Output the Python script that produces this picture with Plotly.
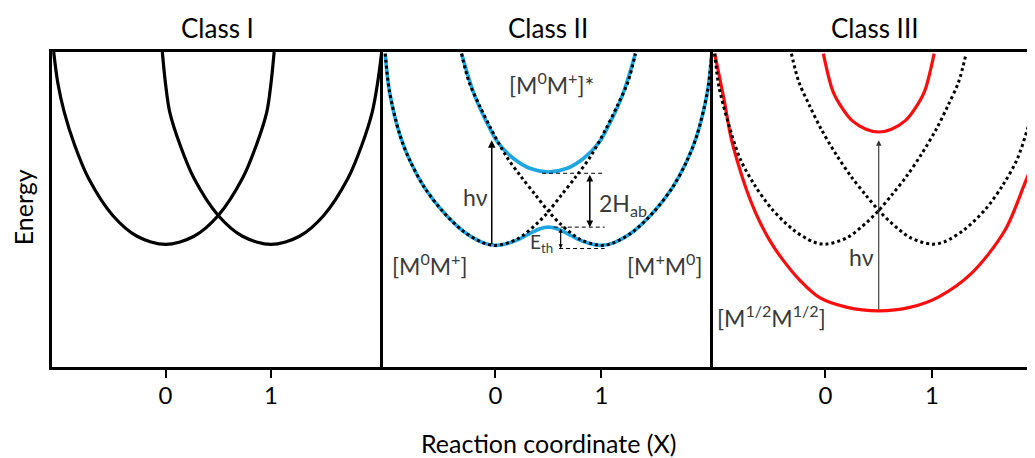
import plotly.graph_objects as go

# ---------------- data (reaction coordinate X, energy in arbitrary units 0..10) ----------------
# Class I : two diabatic curves
c1_a_x = [-1.06, -1.02, -0.96, -0.86, -0.73, -0.5, -0.27, 0.0, 0.27, 0.5, 0.73, 0.86, 0.96, 1.0, 1.03]
c1_a_e = [10.0, 9.0, 8.09, 7.03, 5.99, 4.81, 4.15, 3.89, 4.15, 4.81, 5.99, 7.03, 8.09, 9.0, 10.0]
c1_b_x = [-0.03, 0.0, 0.04, 0.14, 0.27, 0.5, 0.73, 1.0, 1.27, 1.5, 1.73, 1.86, 1.96, 2.01, 2.05]
c1_b_e = [10.0, 9.0, 8.09, 7.03, 5.99, 4.81, 4.15, 3.89, 4.15, 4.81, 5.99, 7.03, 8.09, 9.0, 10.0]

# Class II : diabatic (dotted) and adiabatic (blue) curves
c2_dl_x = [-1.04, -1.0, -0.9, -0.8, -0.67, -0.5, -0.3, -0.12, 0.0, 0.2, 0.39, 0.5, 0.62, 0.76, 0.9, 1.04, 1.15, 1.25, 1.32]
c2_dl_e = [9.95, 8.75, 7.35, 6.5, 5.7, 4.95, 4.3, 3.95, 3.86, 4.05, 4.55, 4.94, 5.45, 6.05, 6.7, 7.55, 8.3, 9.05, 9.95]
c2_dr_x = [-0.32, -0.25, -0.15, -0.04, 0.1, 0.24, 0.38, 0.5, 0.61, 0.8, 1.0, 1.12, 1.3, 1.5, 1.67, 1.8, 1.9, 2.0, 2.04]
c2_dr_e = [9.95, 9.05, 8.3, 7.55, 6.7, 6.05, 5.45, 4.94, 4.55, 4.05, 3.86, 3.95, 4.3, 4.95, 5.7, 6.5, 7.35, 8.75, 9.95]
c2_low_x = [-1.04, -1.0, -0.9, -0.8, -0.67, -0.5, -0.3, -0.12, 0.0, 0.12, 0.23, 0.33, 0.42, 0.5,
            0.58, 0.67, 0.77, 0.88, 1.0, 1.12, 1.3, 1.5, 1.67, 1.8, 1.9, 2.0, 2.04]
c2_low_e = [9.95, 8.75, 7.35, 6.5, 5.7, 4.95, 4.3, 3.95, 3.86, 3.93, 4.07, 4.25, 4.39, 4.44,
            4.39, 4.25, 4.07, 3.93, 3.86, 3.95, 4.3, 4.95, 5.7, 6.5, 7.35, 8.75, 9.95]
c2_up_x = [-0.32, -0.2, -0.05, 0.02, 0.17, 0.33, 0.5, 0.67, 0.83, 0.98, 1.05, 1.2, 1.32]
c2_up_e = [9.95, 8.65, 7.55, 7.14, 6.62, 6.30, 6.19, 6.30, 6.62, 7.14, 7.55, 8.65, 9.95]

# dashed guide levels in Class II
c2_dash_x0 = [0.44, 0.55, 0.60]
c2_dash_x1 = [1.03, 1.03, 1.03]
c2_dash_e = [6.15, 4.44, 3.76]

# Class III : diabatic (dotted) and adiabatic (red) curves
c3_dl_x = [-1.04, -1.0, -0.9, -0.8, -0.67, -0.5, -0.3, -0.12, 0.0, 0.2, 0.39, 0.5, 0.62, 0.76, 0.9, 1.04, 1.15, 1.25, 1.32]
c3_dl_e = [9.95, 8.9, 7.6, 6.6, 5.8, 5.0, 4.35, 3.98, 3.9, 4.1, 4.6, 4.97, 5.45, 6.05, 6.75, 7.55, 8.3, 9.05, 9.95]
c3_dr_x = [-0.32, -0.25, -0.15, -0.04, 0.1, 0.24, 0.38, 0.5, 0.61, 0.8, 1.0, 1.12, 1.3, 1.5, 1.67, 1.8, 1.9, 2.0, 2.04]
c3_dr_e = [9.95, 9.05, 8.3, 7.55, 6.75, 6.05, 5.45, 4.97, 4.6, 4.1, 3.9, 3.98, 4.35, 5.0, 5.8, 6.6, 7.6, 8.9, 9.95]
c3_low_x = [-1.04, -0.95, -0.885, -0.82, -0.744, -0.65, -0.524, -0.4, -0.24, -0.054, 0.195, 0.5,
            0.8, 1.06, 1.37, 1.685, 1.87, 1.967, 2.06]
c3_low_e = [9.95, 8.45, 7.25, 6.45, 5.65, 4.85, 4.02, 3.4, 2.75, 2.2, 1.9, 1.78,
            1.9, 2.22, 2.97, 4.34, 5.82, 6.66, 7.7]
c3_up_x = [-0.02, 0.07, 0.16, 0.25, 0.38, 0.5, 0.62, 0.75, 0.84, 0.93, 1.02]
c3_up_e = [9.95, 8.75, 8.2, 7.82, 7.55, 7.46, 7.55, 7.82, 8.2, 8.75, 9.95]

# arrows: (x, tail energy, head energy)
c2_hv_arrow = [-0.035, 3.86, 7.2]
c2_hab_arrow = [0.89, 6.15, 4.44]
c2_eth_arrow = [0.615, 4.44, 3.76]
c3_hv_arrow = [0.5, 1.78, 7.2]

tick_vals = [0, 1]
tick_text = ["0", "1"]
panel_titles = ["Class I", "Class II", "Class III"]

# ---------------- figure ----------------
FONT = "Lato, Carlito, Open Sans, sans-serif"
BLUE = "#1FA6E0"
RED = "#FF0D0D"
TXT = "#3A3A3A"

fig = go.Figure()


def curve(x, y, ax, color, width, dash="solid"):
    fig.add_trace(go.Scatter(
        x=x, y=y, xaxis="x" + ax, yaxis="y" + ax, mode="lines",
        line=dict(color=color, width=width, dash=dash, shape="spline", smoothing=0.9),
        hoverinfo="skip", showlegend=False))


curve(c1_a_x, c1_a_e, "", "black", 3.2)
curve(c1_b_x, c1_b_e, "", "black", 3.2)

curve(c2_low_x, c2_low_e, "2", BLUE, 3.6)
curve(c2_up_x, c2_up_e, "2", BLUE, 3.6)
curve(c2_dl_x, c2_dl_e, "2", "black", 3, "dot")
curve(c2_dr_x, c2_dr_e, "2", "black", 3, "dot")
for x0, x1, e in zip(c2_dash_x0, c2_dash_x1, c2_dash_e):
    fig.add_trace(go.Scatter(x=[x0, x1], y=[e, e], xaxis="x2", yaxis="y2", mode="lines",
                             line=dict(color="black", width=1, dash="4px,3px"),
                             hoverinfo="skip", showlegend=False))

curve(c3_low_x, c3_low_e, "3", RED, 3.2)
curve(c3_up_x, c3_up_e, "3", RED, 3.2)
curve(c3_dl_x, c3_dl_e, "3", "black", 3, "dot")
curve(c3_dr_x, c3_dr_e, "3", "black", 3, "dot")

# page has an 8px body margin: the figure is sized to fit the 1035x458 window
W, H = 1027, 450
ml, mt = 44, 44
ph = 315
mb = H - mt - ph
pw = W - ml
d1 = 331 / pw
d2 = 661 / pw

axis_common = dict(showgrid=False, zeroline=False, showline=True, linecolor="black", linewidth=3)
xcommon = dict(axis_common, tickmode="array", tickvals=tick_vals, ticktext=tick_text,
               ticks="outside", ticklen=8, tickwidth=2, tickcolor="black",
               tickfont=dict(size=24, color="black", family=FONT), mirror=True,
               ticklabelstandoff=-3)
ycommon = dict(axis_common, range=[0, 10], showticklabels=False, ticks="", domain=[0, 1], mirror=False)

fig.update_layout(
    width=W, height=H,
    margin=dict(l=ml, r=0, t=mt, b=mb),
    paper_bgcolor="white", plot_bgcolor="white",
    font=dict(family=FONT, color="black"),
    xaxis=dict(xcommon, domain=[0, d1], range=[-1.076, 2.062], anchor="y"),
    xaxis2=dict(xcommon, domain=[d1, d2], range=[-1.061, 2.052], anchor="y2"),
    xaxis3=dict(xcommon, domain=[d2, 1], range=[-1.056, 1.967], anchor="y3"),
    yaxis=dict(ycommon, anchor="x"),
    yaxis2=dict(ycommon, anchor="x2"),
    yaxis3=dict(ycommon, anchor="x3"),
)

ann = []
for i, t in enumerate(panel_titles):
    ann.append(dict(text=t, xref=("x" if i == 0 else "x%d" % (i + 1)) + " domain", x=0.5,
                    xanchor="center", yref="paper", y=1.075, yanchor="middle", showarrow=False,
                    font=dict(size=26, color="black")))
ann.append(dict(text="Energy", xref="paper", x=-0.0295, xanchor="center", yref="paper", y=0.507,
                yanchor="middle", textangle=-90, showarrow=False, font=dict(size=25, color="black")))
ann.append(dict(text="Reaction coordinate (X)", xref="paper", x=0.5046, xanchor="center",
                yref="paper", y=-0.2422, yanchor="middle", showarrow=False,
                font=dict(size=25, color="black")))


def label(text, x, y, ax, size=23, xanchor="center"):
    ann.append(dict(text=text, x=x, y=y, xref="x" + ax, yref="y" + ax, showarrow=False,
                    xanchor=xanchor, yanchor="middle", font=dict(size=size, color=TXT)))


def arrow(spec, ax, width=1.5, both=False, size=1.0, color="black"):
    x, e0, e1 = spec
    d = dict(x=x, y=e1, ax=x, ay=e0, xref="x" + ax, yref="y" + ax, axref="x" + ax, ayref="y" + ax,
             text="", showarrow=True, arrowhead=2, arrowsize=size, arrowwidth=width, arrowcolor=color)
    if both:
        d.update(arrowside="end+start", startarrowhead=2, startarrowsize=size)
    ann.append(d)


label("[M<sup>0</sup>M<sup>+</sup>]*", 0.53, 9.0, "2")
label("hν", -0.19, 5.4, "2")
label("2H<sub>ab</sub>", 0.96, 5.15, "2", xanchor="left")
label("E<sub>th</sub>", 0.436, 3.95, "2", size=19)
label("[M<sup>0</sup>M<sup>+</sup>]", -0.62, 3.26, "2")
label("[M<sup>+</sup>M<sup>0</sup>]", 1.6, 3.26, "2")
label("hν", 0.34, 3.49, "3")
label("[M<sup>1/2</sup>M<sup>1/2</sup>]", -0.51, 1.59, "3")

arrow(c2_hv_arrow, "2", width=1.5)
arrow(c2_hab_arrow, "2", width=1.5, both=True, size=0.9)
arrow(c2_eth_arrow, "2", width=1.2, both=True, size=0.7)
arrow(c3_hv_arrow, "3", width=1.1, color="#333333")

fig.update_layout(annotations=ann)
fig.write_html("out.html")
